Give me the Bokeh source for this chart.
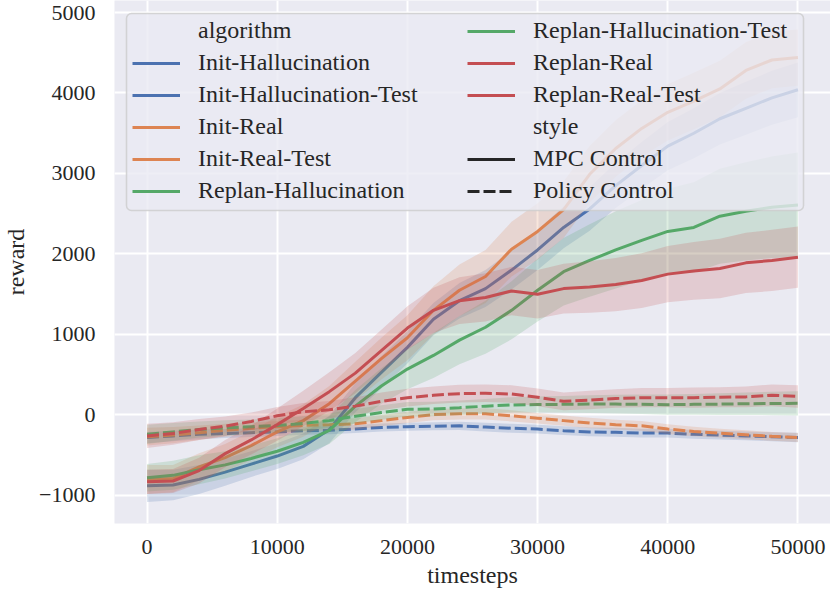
from bokeh.plotting import figure
from bokeh.models import Legend, LegendItem, FixedTicker, BoxAnnotation, Range1d, ColumnDataSource
from bokeh.embed import file_html
from bokeh.resources import INLINE

# ---------------- data ----------------
timesteps = list(range(0, 50001, 2000))

init_hallucination = [-880, -870, -800, -710, -610, -510, -390, -180, 215, 530, 840, 1190, 1420, 1570,
                      1800, 2050, 2330, 2560, 2850, 3100, 3340, 3500, 3680, 3810, 3940, 4040]
init_hallucination_hw = [200, 190, 180, 170, 160, 160, 160, 170, 180, 200, 200, 200, 220, 230,
                         240, 250, 260, 270, 280, 290, 300, 310, 320, 330, 335, 340]

init_hallucination_test = [-280, -260, -240, -230, -220, -210, -195, -190, -175, -155, -145, -140, -135,
                           -150, -165, -175, -195, -210, -215, -225, -225, -240, -250, -260, -270, -280]
init_hallucination_test_hw = [70, 65, 60, 55, 55, 50, 50, 50, 50, 50, 50, 50, 50, 55, 55, 55, 55, 55,
                              55, 55, 55, 55, 55, 55, 55, 60]

init_real = [-800, -790, -645, -530, -380, -210, -70, 140, 420, 700, 960, 1300, 1550, 1720, 2060, 2280,
             2550, 2990, 3310, 3560, 3760, 3900, 4050, 4280, 4410, 4440]
init_real_hw = [180, 170, 170, 170, 180, 190, 200, 220, 240, 260, 280, 300, 320, 330, 340, 350, 350,
                350, 350, 350, 350, 350, 350, 350, 350, 350]

init_real_test = [-270, -250, -220, -190, -165, -145, -130, -122, -110, -70, -30, 5, 15, 15, -10, -40,
                  -70, -100, -120, -135, -175, -205, -225, -245, -265, -280]
init_real_test_hw = [110, 100, 90, 80, 70, 70, 70, 70, 70, 70, 70, 70, 70, 70, 70, 65, 65, 65, 60, 60,
                     60, 60, 55, 55, 55, 55]

replan_hallucination = [-780, -750, -680, -620, -540, -450, -340, -190, 110, 360, 570, 740, 930, 1090,
                        1300, 1550, 1780, 1920, 2050, 2170, 2280, 2330, 2470, 2530, 2580, 2610]
replan_hallucination_hw = [170, 180, 180, 170, 160, 160, 160, 170, 200, 220, 250, 280, 300, 330, 360,
                           390, 420, 450, 480, 500, 530, 560, 590, 610, 630, 650]

replan_hallucination_test = [-240, -210, -180, -160, -145, -130, -105, -70, -15, 30, 70, 75, 90, 110,
                             125, 130, 132, 135, 135, 133, 128, 132, 135, 140, 143, 145]
replan_hallucination_test_hw = [120, 110, 100, 95, 90, 90, 90, 90, 90, 90, 90, 90, 90, 90, 95, 100,
                                105, 110, 115, 120, 125, 130, 135, 140, 145, 150]

replan_real = [-830, -820, -690, -480, -310, -120, 80, 290, 520, 800, 1080, 1300, 1420, 1460, 1540,
               1500, 1570, 1590, 1620, 1670, 1750, 1790, 1820, 1890, 1920, 1960]
replan_real_hw = [150, 150, 160, 170, 180, 200, 220, 240, 250, 260, 270, 280, 290, 300, 300, 300, 310,
                  320, 330, 340, 350, 360, 370, 375, 380, 380]

replan_real_test = [-260, -230, -180, -140, -80, -10, 40, 65, 110, 170, 215, 245, 265, 270, 260, 220,
                    170, 185, 205, 215, 215, 215, 220, 225, 245, 230]
replan_real_test_hw = [150, 140, 130, 120, 110, 110, 110, 110, 110, 110, 110, 110, 110, 110, 110, 110,
                       110, 115, 115, 120, 120, 125, 125, 130, 135, 140]

algorithms = ["Init-Hallucination", "Init-Hallucination-Test", "Init-Real", "Init-Real-Test",
              "Replan-Hallucination", "Replan-Hallucination-Test", "Replan-Real", "Replan-Real-Test"]
styles = ["MPC Control", "Policy Control"]
legend_titles = ["algorithm", "style"]

x_ticks = [0, 10000, 20000, 30000, 40000, 50000]
x_tick_labels = ["0", "10000", "20000", "30000", "40000", "50000"]
y_ticks = [-1000, 0, 1000, 2000, 3000, 4000, 5000]
y_tick_labels = ["\u22121000", "0", "1000", "2000", "3000", "4000", "5000"]

# ---------------- styling ----------------
FONT = "Liberation Serif"
TXT = "#262626"
colors = ["#4C72B0", "#4C72B0", "#DD8452", "#DD8452", "#55A868", "#55A868", "#C44E52", "#C44E52"]
dashes = ["solid", "12 4", "solid", "12 4", "solid", "12 4", "solid", "12 4"]

means = [init_hallucination, init_hallucination_test, init_real, init_real_test,
         replan_hallucination, replan_hallucination_test, replan_real, replan_real_test]
hws = [init_hallucination_hw, init_hallucination_test_hw, init_real_hw, init_real_test_hw,
       replan_hallucination_hw, replan_hallucination_test_hw, replan_real_hw, replan_real_test_hw]

p = figure(width=830, height=597, output_backend="svg", toolbar_location=None,
           x_range=Range1d(-2500, 52500), y_range=Range1d(-1348, 5149),
           min_border_left=114, min_border_right=0, min_border_top=0, min_border_bottom=74,
           background_fill_color="#EAEAF2", border_fill_color="white", outline_line_color=None)

for m, hw, c, d in zip(means, hws, colors, dashes):
    lo = [a - b for a, b in zip(m, hw)]
    hi = [a + b for a, b in zip(m, hw)]
    src = ColumnDataSource(dict(x=timesteps, y=m, lo=lo, hi=hi))
    p.varea(x="x", y1="lo", y2="hi", source=src, fill_color=c, fill_alpha=0.2)
    p.line(x="x", y="y", source=src, line_color=c, line_width=3, line_dash=d)

# axes
for ax in (p.xaxis[0], p.yaxis[0]):
    ax.axis_line_color = None
    ax.major_tick_line_color = None
    ax.minor_tick_line_color = None
    ax.major_tick_in = 0
    ax.major_tick_out = 0
    ax.minor_tick_in = 0
    ax.minor_tick_out = 0
    ax.major_label_text_font = FONT
    ax.major_label_text_font_size = "22px"
    ax.major_label_text_color = TXT
    ax.axis_label_text_font = FONT
    ax.axis_label_text_font_size = "24px"
    ax.axis_label_text_font_style = "normal"
    ax.axis_label_text_color = TXT

p.xaxis.ticker = FixedTicker(ticks=x_ticks)
p.xaxis.major_label_overrides = dict(zip(x_ticks, x_tick_labels))
p.yaxis.ticker = FixedTicker(ticks=y_ticks)
p.yaxis.major_label_overrides = dict(zip(y_ticks, y_tick_labels))
p.xaxis.axis_label = "timesteps"
p.yaxis.axis_label = "reward"
p.xaxis.major_label_standoff = 16
p.xaxis.axis_label_standoff = 5
p.yaxis.major_label_standoff = 19
p.yaxis.axis_label_standoff = 7

p.xgrid.grid_line_color = "white"
p.ygrid.grid_line_color = "white"
p.xgrid.grid_line_width = 2
p.ygrid.grid_line_width = 2

# legend background box (canvas units)
box = BoxAnnotation(left=126, right=803, top=13, bottom=210,
                    left_units="canvas", right_units="canvas", top_units="canvas", bottom_units="canvas",
                    fill_color="#EAEAF2", fill_alpha=0.8, line_color="#CCCCCC", line_alpha=0.8,
                    line_width=1.5, border_radius=5)
p.add_layout(box)

NAN = float("nan")

def dummy(color, dash="solid", alpha=1.0):
    return p.line(x=[NAN], y=[NAN], line_color=color, line_width=3, line_dash=dash, line_alpha=alpha)

hdr1 = dummy("black", alpha=0)
hdr2 = dummy("black", alpha=0)
alg_r = [dummy(c) for c in colors]
sty_r = [dummy("#262626"), dummy("#262626", "12 4")]

items1 = [LegendItem(label=legend_titles[0], renderers=[hdr1])] + \
         [LegendItem(label=algorithms[i], renderers=[alg_r[i]]) for i in range(5)]
items2 = [LegendItem(label=algorithms[i], renderers=[alg_r[i]]) for i in range(5, 8)] + \
         [LegendItem(label=legend_titles[1], renderers=[hdr2])] + \
         [LegendItem(label=styles[i], renderers=[sty_r[i]]) for i in range(2)]

def make_legend(items, loc):
    return Legend(items=items, location=loc, orientation="vertical",
                  background_fill_alpha=0, border_line_alpha=0, padding=0, margin=0,
                  spacing=5, glyph_width=48, glyph_height=20, label_height=20,
                  label_standoff=18, label_text_font=FONT, label_text_font_size="24px",
                  label_text_color=TXT, click_policy="none")

p.add_layout(make_legend(items1, (18, 319)))
p.add_layout(make_legend(items2, (353, 319)))

open("out.html", "w").write(file_html(p, INLINE))
